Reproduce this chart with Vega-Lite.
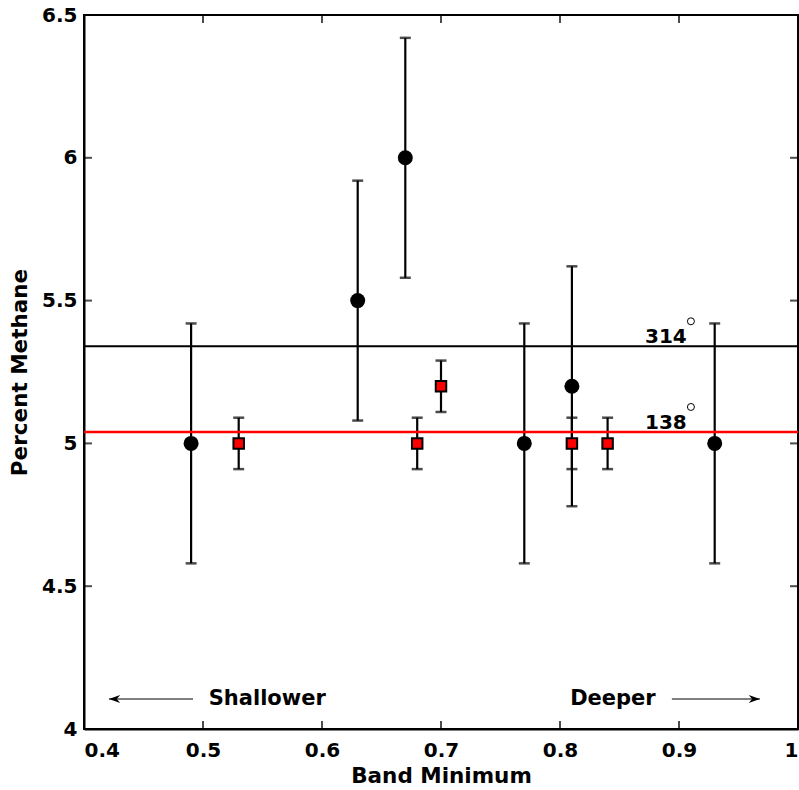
{
  "$schema": "https://vega.github.io/schema/vega-lite/v6.json",
  "width": 714,
  "height": 714,
  "autosize": {"type": "none"},
  "padding": {"left": 84, "top": 15, "right": 1, "bottom": 61},
  "background": "white",
  "config": {
    "font": "DejaVu Sans",
    "view": {"stroke": "black", "strokeWidth": 2},
    "axis": {
      "grid": false,
      "domainColor": "black",
      "domainWidth": 2,
      "ticks": false,
      "labelFont": "DejaVu Sans",
      "labelFontWeight": "bold",
      "labelFontSize": 20,
      "labelColor": "black",
      "titleFont": "DejaVu Sans",
      "titleFontWeight": "bold",
      "titleFontSize": 21.5,
      "titleColor": "black"
    }
  },
  "datasets": {
    "circles": [
      {"band": 0.49, "methane": 5.0, "lo": 4.58, "hi": 5.42},
      {"band": 0.63, "methane": 5.5, "lo": 5.08, "hi": 5.92},
      {"band": 0.67, "methane": 6.0, "lo": 5.58, "hi": 6.42},
      {"band": 0.77, "methane": 5.0, "lo": 4.58, "hi": 5.42},
      {"band": 0.81, "methane": 5.2, "lo": 4.78, "hi": 5.62},
      {"band": 0.93, "methane": 5.0, "lo": 4.58, "hi": 5.42}
    ],
    "squares": [
      {"band": 0.53, "methane": 5.0, "lo": 4.91, "hi": 5.09},
      {"band": 0.68, "methane": 5.0, "lo": 4.91, "hi": 5.09},
      {"band": 0.70, "methane": 5.2, "lo": 5.11, "hi": 5.29},
      {"band": 0.81, "methane": 5.0, "lo": 4.91, "hi": 5.09},
      {"band": 0.84, "methane": 5.0, "lo": 4.91, "hi": 5.09}
    ],
    "levels": [
      {"label": "314", "band": 0.889, "methane": 5.34},
      {"label": "138", "band": 0.889, "methane": 5.04}
    ],
    "notes": [
      {"label": "Shallower", "band": 0.554, "methane": 4.105},
      {"label": "Deeper", "band": 0.8445, "methane": 4.105}
    ],
    "arrows": [
      {"dir": "left", "from": 0.4916, "to": 0.421, "methane": 4.105},
      {"dir": "right", "from": 0.894, "to": 0.968, "methane": 4.105}
    ],
    "xticks": [
      {"band": 0.5, "bottom": 4, "top": 6.5},
      {"band": 0.6, "bottom": 4, "top": 6.5},
      {"band": 0.7, "bottom": 4, "top": 6.5},
      {"band": 0.8, "bottom": 4, "top": 6.5},
      {"band": 0.9, "bottom": 4, "top": 6.5}
    ],
    "yticks": [
      {"methane": 4.5, "left": 0.4, "right": 1.0},
      {"methane": 5.0, "left": 0.4, "right": 1.0},
      {"methane": 5.5, "left": 0.4, "right": 1.0},
      {"methane": 6.0, "left": 0.4, "right": 1.0}
    ]
  },
  "layer": [
    {
      "data": {"name": "circles"},
      "mark": {"type": "rule", "color": "black", "strokeWidth": 2.2},
      "encoding": {
        "x": {"field": "band", "type": "quantitative", "scale": {"domain": [0.4, 1.0], "nice": false, "zero": false},
          "axis": {"orient": "bottom", "values": [0.4, 0.5, 0.6, 0.7, 0.8, 0.9, 1.0], "format": "~g", "labelPadding": 11, "title": "Band Minimum", "titlePadding": 5}},
        "y": {"field": "lo", "type": "quantitative", "scale": {"domain": [4, 6.5], "nice": false, "zero": false},
          "axis": {"orient": "left", "values": [4, 4.5, 5, 5.5, 6, 6.5], "format": "~g", "labelPadding": 7, "title": "Percent Methane", "titlePadding": 10}},
        "y2": {"field": "hi"}
      }
    },
    {
      "data": {"name": "circles"},
      "mark": {"type": "tick", "orient": "horizontal", "color": "black", "size": 11, "thickness": 2.5},
      "encoding": {
        "x": {"field": "band", "type": "quantitative"},
        "y": {"field": "lo", "type": "quantitative"}
      }
    },
    {
      "data": {"name": "circles"},
      "mark": {"type": "tick", "orient": "horizontal", "color": "black", "size": 11, "thickness": 2.5},
      "encoding": {
        "x": {"field": "band", "type": "quantitative"},
        "y": {"field": "hi", "type": "quantitative"}
      }
    },
    {
      "data": {"name": "squares"},
      "mark": {"type": "rule", "color": "black", "strokeWidth": 2.2},
      "encoding": {
        "x": {"field": "band", "type": "quantitative"},
        "y": {"field": "lo", "type": "quantitative"},
        "y2": {"field": "hi"}
      }
    },
    {
      "data": {"name": "squares"},
      "mark": {"type": "tick", "orient": "horizontal", "color": "black", "size": 11, "thickness": 2.5},
      "encoding": {
        "x": {"field": "band", "type": "quantitative"},
        "y": {"field": "lo", "type": "quantitative"}
      }
    },
    {
      "data": {"name": "squares"},
      "mark": {"type": "tick", "orient": "horizontal", "color": "black", "size": 11, "thickness": 2.5},
      "encoding": {
        "x": {"field": "band", "type": "quantitative"},
        "y": {"field": "hi", "type": "quantitative"}
      }
    },
    {
      "data": {"name": "levels"},
      "transform": [{"filter": "datum.label == '314'"}],
      "mark": {"type": "rule", "color": "black", "strokeWidth": 2},
      "encoding": {
        "y": {"field": "methane", "type": "quantitative"}
      }
    },
    {
      "data": {"name": "levels"},
      "transform": [{"filter": "datum.label == '138'"}],
      "mark": {"type": "rule", "color": "#ff0000", "strokeWidth": 2.5},
      "encoding": {
        "y": {"field": "methane", "type": "quantitative"}
      }
    },
    {
      "data": {"name": "circles"},
      "mark": {"type": "point", "shape": "circle", "filled": true, "color": "black", "size": 225, "opacity": 1},
      "encoding": {
        "x": {"field": "band", "type": "quantitative"},
        "y": {"field": "methane", "type": "quantitative"}
      }
    },
    {
      "data": {"name": "squares"},
      "mark": {"type": "point", "shape": "square", "filled": true, "fill": "#ff0000", "stroke": "black", "strokeWidth": 2, "size": 110, "opacity": 1},
      "encoding": {
        "x": {"field": "band", "type": "quantitative"},
        "y": {"field": "methane", "type": "quantitative"}
      }
    },
    {
      "data": {"name": "levels"},
      "mark": {"type": "text", "font": "DejaVu Sans", "fontWeight": "bold", "fontSize": 20, "color": "black", "align": "center", "baseline": "alphabetic", "dy": -3},
      "encoding": {
        "x": {"field": "band", "type": "quantitative"},
        "y": {"field": "methane", "type": "quantitative"},
        "text": {"field": "label"}
      }
    },
    {
      "data": {"name": "levels"},
      "mark": {"type": "point", "shape": "circle", "filled": false, "color": "black", "strokeWidth": 1, "size": 49, "opacity": 1},
      "encoding": {
        "x": {"field": "band", "type": "quantitative"},
        "y": {"field": "methane", "type": "quantitative"},
        "xOffset": {"value": 25},
        "yOffset": {"value": -25}
      }
    },
    {
      "data": {"name": "notes"},
      "mark": {"type": "text", "font": "DejaVu Sans", "fontWeight": "bold", "fontSize": 21, "color": "black", "align": "center", "baseline": "middle"},
      "encoding": {
        "x": {"field": "band", "type": "quantitative"},
        "y": {"field": "methane", "type": "quantitative"},
        "text": {"field": "label"}
      }
    },
    {
      "data": {"name": "arrows"},
      "mark": {"type": "rule", "color": "black", "strokeWidth": 1},
      "encoding": {
        "x": {"field": "from", "type": "quantitative"},
        "x2": {"field": "to"},
        "y": {"field": "methane", "type": "quantitative"}
      }
    },
    {
      "data": {"name": "arrows"},
      "transform": [{"filter": "datum.dir == 'left'"}],
      "mark": {"type": "point", "shape": "M0,0 L1,-0.35 L0.7,0 L1,0.35 Z", "filled": true, "color": "black", "size": 500, "opacity": 1},
      "encoding": {
        "x": {"field": "to", "type": "quantitative"},
        "y": {"field": "methane", "type": "quantitative"}
      }
    },
    {
      "data": {"name": "arrows"},
      "transform": [{"filter": "datum.dir == 'right'"}],
      "mark": {"type": "point", "shape": "M0,0 L-1,-0.35 L-0.7,0 L-1,0.35 Z", "filled": true, "color": "black", "size": 500, "opacity": 1},
      "encoding": {
        "x": {"field": "to", "type": "quantitative"},
        "y": {"field": "methane", "type": "quantitative"}
      }
    },
    {
      "data": {"name": "xticks"},
      "mark": {"type": "tick", "orient": "vertical", "color": "black", "size": 8, "thickness": 2},
      "encoding": {
        "x": {"field": "band", "type": "quantitative"},
        "y": {"field": "bottom", "type": "quantitative"},
        "yOffset": {"value": -4}
      }
    },
    {
      "data": {"name": "xticks"},
      "mark": {"type": "tick", "orient": "vertical", "color": "black", "size": 8, "thickness": 2},
      "encoding": {
        "x": {"field": "band", "type": "quantitative"},
        "y": {"field": "top", "type": "quantitative"},
        "yOffset": {"value": 4}
      }
    },
    {
      "data": {"name": "yticks"},
      "mark": {"type": "tick", "orient": "horizontal", "color": "black", "size": 8, "thickness": 2},
      "encoding": {
        "x": {"field": "left", "type": "quantitative"},
        "y": {"field": "methane", "type": "quantitative"},
        "xOffset": {"value": 4}
      }
    },
    {
      "data": {"name": "yticks"},
      "mark": {"type": "tick", "orient": "horizontal", "color": "black", "size": 8, "thickness": 2},
      "encoding": {
        "x": {"field": "right", "type": "quantitative"},
        "y": {"field": "methane", "type": "quantitative"},
        "xOffset": {"value": -4}
      }
    }
  ]
}
